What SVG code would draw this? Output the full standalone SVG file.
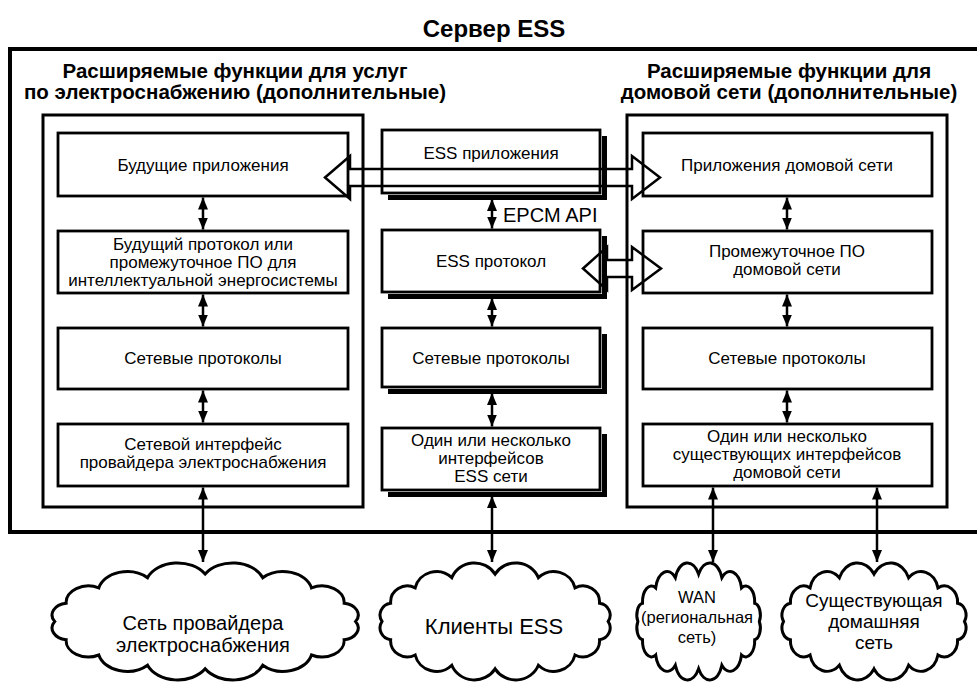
<svg xmlns="http://www.w3.org/2000/svg" xmlns:xlink="http://www.w3.org/1999/xlink" width="977" height="684" viewBox="0 0 977 684">
<style>
text{font-family:"Liberation Sans",Arial,sans-serif;fill:#000;text-anchor:middle}
.t{font-size:17px}
.h{font-size:20.5px;font-weight:bold}
.c{font-size:20px}
.s{font-size:16.5px}
.box{fill:#fff;stroke:#000;stroke-width:2.8}
.sec{fill:none;stroke:#000;stroke-width:3}
.srv{fill:#fff;stroke:#000;stroke-width:4}
.sh{fill:none;stroke:#000;stroke-width:5}
.ln{fill:none;stroke:#000;stroke-width:2.5;marker-start:url(#ah);marker-end:url(#ah)}
.wide{fill:none;stroke:#000;stroke-width:2.5;stroke-linejoin:miter}
.cl{fill:#fff;stroke:#000;stroke-width:3;vector-effect:non-scaling-stroke}
</style>
<defs>
<marker id="ah" viewBox="0 0 12 10" refX="12" refY="5" markerWidth="12" markerHeight="10" markerUnits="userSpaceOnUse" orient="auto-start-reverse" preserveAspectRatio="none"><path d="M0,0 L12,5 L0,10 Z" fill="#000"/></marker>
<path id="cloud" class="cl" d="M188,50 A9.5,9.5 0 0 1 181.3,64.6 A13,13 0 0 1 162.2,76.9 A17,17 0 0 1 133.7,85.1 A19,19 0 0 1 100,88 A19,19 0 0 1 66.3,85.1 A17,17 0 0 1 37.8,76.9 A13,13 0 0 1 18.7,64.6 A9.5,9.5 0 0 1 12,50 A9.5,9.5 0 0 1 18.7,35.4 A13,13 0 0 1 37.8,23.1 A17,17 0 0 1 66.3,14.9 A19,19 0 0 1 100,12 A19,19 0 0 1 133.7,14.9 A17,17 0 0 1 162.2,23.1 A13,13 0 0 1 181.3,35.4 A9.5,9.5 0 0 1 188,50 Z"/>
</defs>
<rect width="977" height="684" fill="#fff"/>
<text x="494" y="37" style="font-size:24px;font-weight:bold">Сервер ESS</text>
<g id="server"><rect class="srv" x="10" y="49" width="980" height="483"/></g>
<g id="utility-section">
<rect class="sec" x="43" y="115" width="320" height="392"/>
<text class="h" x="235" y="78">Расширяемые функции для услуг</text>
<text class="h" x="235" y="99">по электроснабжению (дополнительные)</text>
</g>
<g id="home-section">
<rect class="sec" x="627" y="115" width="320" height="392"/>
<text class="h" x="789" y="78">Расширяемые функции для</text>
<text class="h" x="789" y="99">домовой сети (дополнительные)</text>
</g>
<g id="future-apps"><rect class="box" x="58" y="133" width="290" height="63"/><text class="t" x="203" y="171">Будущие приложения</text></g>
<g id="future-protocol"><rect class="box" x="58" y="231" width="290" height="62"/><text class="t" x="203" y="250">Будущий протокол или</text><text class="t" x="203" y="268">промежуточное ПО для</text><text class="t" x="203" y="286">интеллектуальной энергосистемы</text></g>
<g id="left-net"><rect class="box" x="58" y="328" width="290" height="61"/><text class="t" x="203" y="364">Сетевые протоколы</text></g>
<g id="left-iface"><rect class="box" x="58" y="424" width="290" height="62"/><text class="t" x="203" y="450">Сетевой интерфейс</text><text class="t" x="203" y="468">провайдера электроснабжения</text></g>
<g id="ess-apps"><polyline class="sh" points="604.5,136 604.5,197.5 388,197.5"/><rect class="box" x="382" y="130" width="218" height="63"/><text class="t" x="491" y="159">ESS приложения</text></g>
<g id="ess-protocol"><polyline class="sh" points="604.5,236 604.5,296.5 388,296.5"/><rect class="box" x="382" y="230" width="218" height="62"/><text class="t" x="491" y="267">ESS протокол</text></g>
<g id="ess-net"><polyline class="sh" points="604.5,334 604.5,391.5 388,391.5"/><rect class="box" x="382" y="328" width="218" height="59"/><text class="t" x="491" y="364">Сетевые протоколы</text></g>
<g id="ess-iface"><polyline class="sh" points="604.5,434 604.5,494.5 388,494.5"/><rect class="box" x="382" y="428" width="218" height="62"/><text class="t" x="491" y="446">Один или несколько</text><text class="t" x="491" y="464">интерфейсов</text><text class="t" x="491" y="482">ESS сети</text></g>
<g id="home-apps"><rect class="box" x="643" y="133" width="289" height="63"/><text class="t" x="787" y="171">Приложения домовой сети</text></g>
<g id="home-middleware"><rect class="box" x="643" y="231" width="289" height="62"/><text class="t" x="787" y="257">Промежуточное ПО</text><text class="t" x="787" y="275">домовой сети</text></g>
<g id="home-net"><rect class="box" x="643" y="328" width="289" height="61"/><text class="t" x="787" y="364">Сетевые протоколы</text></g>
<g id="home-iface"><rect class="box" x="643" y="424" width="289" height="62"/><text class="t" x="787" y="442">Один или несколько</text><text class="t" x="787" y="460">существующих интерфейсов</text><text class="t" x="787" y="478">домовой сети</text></g>
<g id="cloud-utility"><use xlink:href="#cloud" href="#cloud" transform="translate(34.2,559.1) scale(1.7095,1.247)"/><text class="c" x="203" y="630">Сеть провайдера</text><text class="c" x="203" y="652">электроснабжения</text></g>
<g id="cloud-clients"><use xlink:href="#cloud" href="#cloud" transform="translate(366.6,559.1) scale(1.2849,1.247)"/><text x="494" y="634" style="font-size:22px">Клиенты ESS</text></g>
<g id="cloud-wan"><use xlink:href="#cloud" href="#cloud" transform="translate(629.6,559.1) scale(0.69,1.247)"/><text class="s" x="697" y="603">WAN</text><text class="s" x="697" y="623">(региональная</text><text class="s" x="697" y="643">сеть)</text></g>
<g id="cloud-home"><use xlink:href="#cloud" href="#cloud" transform="translate(771.2,559.1) scale(1.028,1.247)"/><text x="874" y="607" style="font-size:19px">Существующая</text><text x="874" y="628" style="font-size:19px">домашняя</text><text x="874" y="649" style="font-size:19px">сеть</text></g>
<g id="connectors">
<line class="ln" x1="203" y1="197.5" x2="203" y2="229.5"/>
<line class="ln" x1="203" y1="294.5" x2="203" y2="326.5"/>
<line class="ln" x1="203" y1="390.5" x2="203" y2="422.5"/>
<line class="ln" x1="203" y1="487.5" x2="203" y2="562"/>
<line class="ln" x1="492" y1="199" x2="492" y2="228.5"/>
<line class="ln" x1="492" y1="298" x2="492" y2="326.5"/>
<line class="ln" x1="492" y1="393" x2="492" y2="426.5"/>
<line class="ln" x1="492" y1="496" x2="492" y2="562"/>
<line class="ln" x1="787" y1="197.5" x2="787" y2="229.5"/>
<line class="ln" x1="787" y1="294.5" x2="787" y2="326.5"/>
<line class="ln" x1="787" y1="390.5" x2="787" y2="422.5"/>
<line class="ln" x1="713" y1="487.5" x2="713" y2="562"/>
<line class="ln" x1="877" y1="487.5" x2="877" y2="562"/>
<path class="wide" d="M325,177.5 L350,156 L350,169 L632,169 L632,156 L660,177.5 L632,199 L632,186 L350,186 L350,199 Z"/>
<path class="wide" d="M583,268.5 L607,247 L607,260 L632,260 L632,247 L661,268.5 L632,290 L632,277 L607,277 L607,290 Z"/>
<text x="503" y="222" style="font-size:20px;text-anchor:start">EPCM API</text>
</g>
</svg>
